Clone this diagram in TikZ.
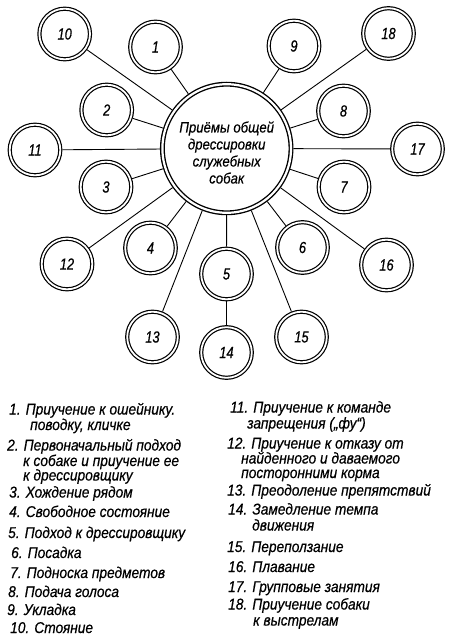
\documentclass[tikz,border=0pt]{standalone}
\usepackage{fontspec}
\setmainfont[FakeStretch=0.88,FakeBold=0.5]{Liberation Sans}
\newfontfamily\numfont[FakeStretch=0.8,FakeBold=0.6]{Liberation Sans}
\begin{document}
\begin{tikzpicture}[x=1pt,y=-1pt,
  ring/.style={circle,draw,double,line width=1.2pt,double distance=1.8pt,
    minimum size=50.6pt,inner sep=0pt,outer sep=2.1pt,
    font=\numfont\itshape\fontsize{16}{16}\selectfont},
  bigring/.style={circle,draw,double,line width=1.35pt,double distance=2.2pt,
    minimum size=128.6pt,inner sep=0pt,outer sep=2.45pt},
  conn/.style={line width=0.9pt},
  leg/.style={anchor=base west,inner sep=0pt,
    font=\itshape\fontsize{15.6}{15.6}\selectfont},
  ctext/.style={align=center,inner sep=0pt,
    font=\itshape\fontsize{15}{17}\selectfont}]
\useasboundingbox (0,0) rectangle (450,639);

\node[bigring] (c) at (226.7,148.5) {};
\node[ctext] (ct) at (226.7,152.5) {Приёмы общей\\дрессировки\\служебных\\собак};

\node[ring] (n10) at (64.7,34) {10};
\node[ring] (n1) at (155.5,47) {1};
\node[ring] (n9) at (294,46) {9};
\node[ring] (n18) at (388.5,33.5) {18};
\node[ring] (n2) at (106.7,110) {2};
\node[ring] (n8) at (343.5,111) {8};
\node[ring] (n11) at (35,150) {11};
\node[ring] (n17) at (417.5,149) {17};
\node[ring] (n3) at (106,187) {3};
\node[ring] (n7) at (344,187) {7};
\node[ring] (n4) at (150.5,248) {4};
\node[ring] (n6) at (302.5,247.5) {6};
\node[ring] (n12) at (67,264) {12};
\node[ring] (n16) at (386.5,265) {16};
\node[ring] (n5) at (226.5,274) {5};
\node[ring] (n13) at (152.5,337) {13};
\node[ring] (n14) at (226.5,352.5) {14};
\node[ring] (n15) at (301.5,337) {15};

\foreach \n in {n1,n2,n3,n4,n5,n6,n7,n8,n9,n10,n11,n12,n13,n15,n16,n17,n18}
  \draw[conn] (c) -- (\n);
\draw[conn] (n5) -- (n14);

% legend, left column
\node[leg] (l1a) at (9,414.5) {1. Приучение к ошейнику.};
\node[leg] (l1b) at (30,430) {поводку, кличке};
\node[leg] (l2a) at (7,450.5) {2. Первоначальный подход};
\node[leg] (l2b) at (23,466) {к собаке и приучение ее};
\node[leg] (l2c) at (23,480.5) {к дрессировщику};
\node[leg] (l3) at (9,497.5) {3. Хождение рядом};
\node[leg] (l4) at (9,517) {4. Свободное состояние};
\node[leg] (l5) at (8,538) {5. Подход к дрессировщику};
\node[leg] (l6) at (11,558) {6. Посадка};
\node[leg] (l7) at (10,578) {7. Подноска предметов};
\node[leg] (l8) at (8,597) {8. Подача голоса};
\node[leg] (l9) at (7,615) {9. Укладка};
\node[leg] (l10) at (10,633) {10. Стояние};

% legend, right column
\node[leg] (r11a) at (230,412.5) {11. Приучение к команде};
\node[leg] (r11b) at (247,428.5) {запрещения („фу“)};
\node[leg] (r12a) at (227,448.5) {12. Приучение к отказу от};
\node[leg] (r12b) at (241,463.5) {найденного и даваемого};
\node[leg] (r12c) at (241,478) {посторонними корма};
\node[leg] (r13) at (227,495.5) {13. Преодоление препятствий};
\node[leg] (r14a) at (228,514.5) {14. Замедление темпа};
\node[leg] (r14b) at (252,530.5) {движения};
\node[leg] (r15) at (227,552) {15. Переползание};
\node[leg] (r16) at (228,572) {16. Плавание};
\node[leg] (r17) at (228,592) {17. Групповые занятия};
\node[leg] (r18a) at (228,609.5) {18. Приучение собаки};
\node[leg] (r18b) at (253,625.5) {к выстрелам};
\end{tikzpicture}
\end{document}
